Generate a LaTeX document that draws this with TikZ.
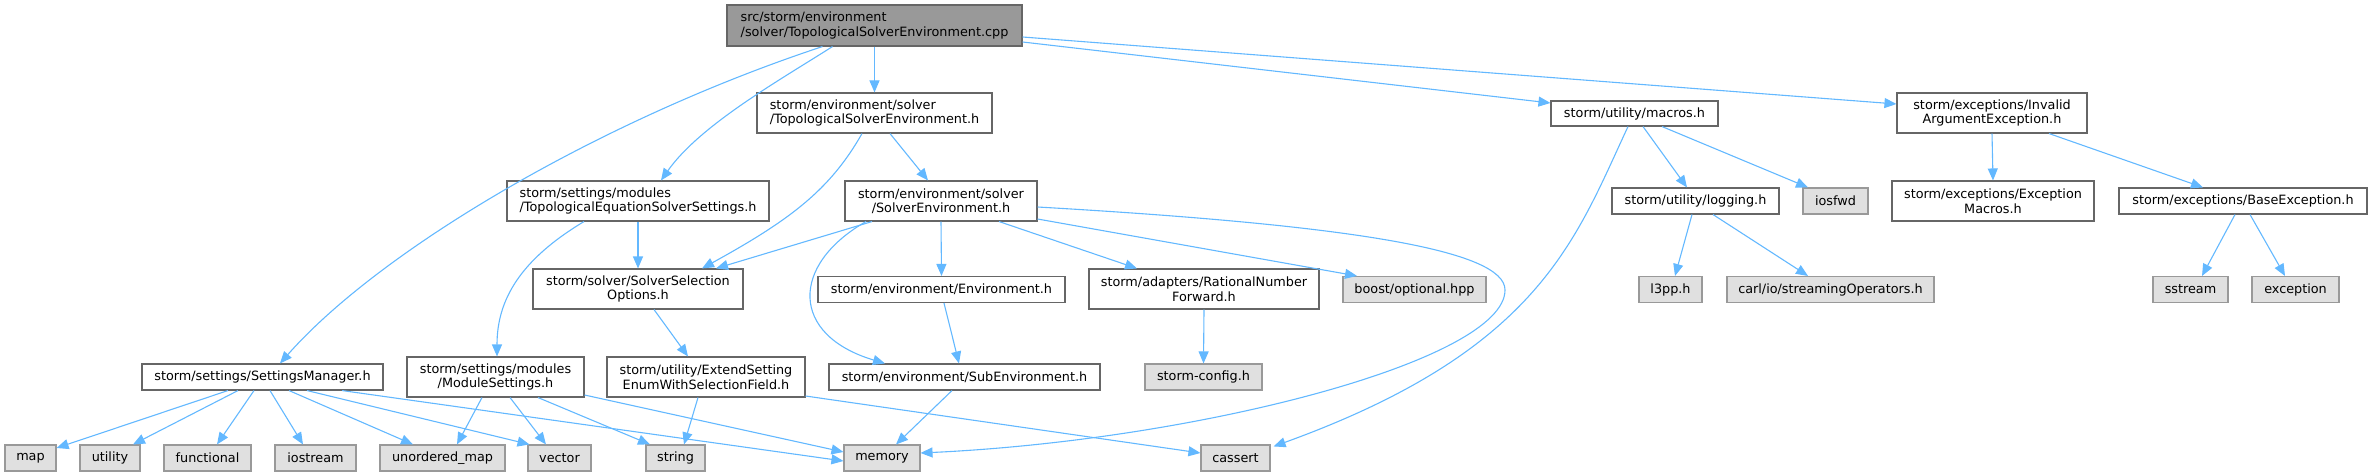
\documentclass[tikz,border=0pt]{standalone}
\usepackage{fontspec}
\newfontfamily\dv{DejaVu Sans}
\usetikzlibrary{arrows.meta}
\definecolor{edgeblue}{HTML}{63B8FF}
\definecolor{bordgray}{HTML}{666666}
\definecolor{extfill}{HTML}{E0E0E0}
\definecolor{extbord}{HTML}{999999}
\definecolor{rootfill}{HTML}{999999}
\begin{document}
\begin{tikzpicture}[x=1pt,y=-1pt,
  nd/.style={draw=bordgray, fill=white, line width=1.1pt, inner sep=0pt,
    font=\dv\fontsize{12.8}{14.5}\selectfont, text=black, minimum height=26pt},
  two/.style={minimum height=40pt},
  ext/.style={nd, draw=extbord, fill=extfill},
  rootnd/.style={nd, two, fill=rootfill, draw=bordgray},
  conn/.style={draw=edgeblue, line width=1.1pt, -{Triangle[length=12pt,width=10pt]}, fill=none}
]
\useasboundingbox (0,0) rectangle (2371,476);
% row 0
\node[rootnd, minimum width=295pt, minimum height=41pt, align=left] (root) at (874.5,25.5) {src/storm/environment\\/solver/TopologicalSolverEnvironment.cpp};
% row 1
\node[nd, two, minimum width=235pt, align=left] (tse) at (874.5,113) {storm/environment/solver\\/TopologicalSolverEnvironment.h};
\node[nd, minimum width=167pt, minimum height=25pt] (macros) at (1634.5,113.5) {storm/utility/macros.h};
\node[nd, two, minimum width=190pt, align=center] (inv) at (1992,113) {storm/exceptions/Invalid\\ArgumentException.h};
% row 2
\node[nd, two, minimum width=262pt, align=left] (tes) at (638,201) {storm/settings/modules\\/TopologicalEquationSolverSettings.h};
\node[nd, two, minimum width=192pt, align=center] (se) at (941,201) {storm/environment/solver\\/SolverEnvironment.h};
\node[nd, minimum width=167pt] (logging) at (1695.5,201) {storm/utility/logging.h};
\node[ext, minimum width=65pt] (iosfwd) at (1835.5,201) {iosfwd};
\node[nd, two, minimum width=202pt, align=center] (em) at (1993,201) {storm/exceptions/Exception\\Macros.h};
\node[nd, minimum width=248pt] (be) at (2243,201) {storm/exceptions/BaseException.h};
% row 3
\node[nd, two, minimum width=210pt, align=center] (ss) at (638,289) {storm/solver/SolverSelection\\Options.h};
\node[nd, minimum width=247pt] (env) at (941.5,289.5) {storm/environment/Environment.h};
\node[nd, two, minimum width=230pt, align=center] (rn) at (1204,289) {storm/adapters/RationalNumber\\Forward.h};
\node[ext, minimum width=143pt] (boost) at (1414.5,289.5) {boost/optional.hpp};
\node[ext, minimum width=63pt] (l3pp) at (1670.5,289.5) {l3pp.h};
\node[ext, minimum width=207pt] (carl) at (1830.5,289.5) {carl/io/streamingOperators.h};
\node[ext, minimum width=75pt] (sstream) at (2190.5,289.5) {sstream};
\node[ext, minimum width=87pt] (exception) at (2295.5,289.5) {exception};
% row 4
\node[nd, minimum width=241pt] (sm) at (262.5,377) {storm/settings/SettingsManager.h};
\node[nd, two, minimum width=177pt, align=center] (ms) at (495.5,377) {storm/settings/modules\\/ModuleSettings.h};
\node[nd, two, minimum width=198pt, align=center] (es) at (706,377) {storm/utility/ExtendSetting\\EnumWithSelectionField.h};
\node[nd, minimum width=271pt] (sub) at (964.5,377) {storm/environment/SubEnvironment.h};
\node[ext, minimum width=117pt] (cfg) at (1203.5,377) {storm-config.h};
% row 5
\node[ext, minimum width=51pt] (map) at (30.5,458) {map};
\node[ext, minimum width=60pt] (utility) at (110,458) {utility};
\node[ext, minimum width=87pt] (functional) at (207.5,458) {functional};
\node[ext, minimum width=81pt] (iostream) at (315.5,458) {iostream};
\node[ext, minimum width=125pt] (um) at (442.5,458) {unordered\_map};
\node[ext, minimum width=63pt] (vector) at (559.5,458) {vector};
\node[ext, minimum width=59pt] (string) at (675.5,458) {string};
\node[ext, minimum width=76pt] (memory) at (882,458) {memory};
\node[ext, minimum width=69pt] (cassert) at (1235.5,458) {cassert};
% edges
\draw[conn] (root.south) -- (tse.north);
\draw[conn] ([xshift=-42pt]root.south) .. controls (780,80) and (700,125) .. ([xshift=23pt]tes.north);
\draw[conn] ([xshift=-52pt]root.south) .. controls (600,120) and (380,250) .. ([xshift=17.5pt]sm.north);
\draw[conn] ([yshift=-16.5pt]root.east) -- ([yshift=10.5pt]macros.west);
\draw[conn] ([yshift=-11.5pt]root.east) -- ([yshift=9pt]inv.west);
\draw[conn] ([xshift=15.5pt]tse.south) -- ([xshift=-13pt]se.north);
\draw[conn] ([xshift=-12.5pt]tse.south) .. controls (830,190) and (790,220) .. ([xshift=64pt]ss.north);
\draw[conn] (tes.south) -- (ss.north);
\draw[conn] ([xshift=-54pt]tes.south) .. controls (520,260) and (497,300) .. ([xshift=1.5pt]ms.north);
\draw[conn] ([xshift=-69pt]se.south) -- ([xshift=78pt]ss.north);
\draw[conn] ([xshift=-75pt]se.south) .. controls (790,265) and (790,335) .. ([xshift=-79.5pt]sub.north);
\draw[conn] (se.south) -- (env.north);
\draw[conn] ([xshift=58pt]se.south) -- ([xshift=-67pt]rn.north);
\draw[conn] ([yshift=-18pt]se.east) -- ([xshift=-57.5pt]boost.north);
\draw[conn] ([yshift=-6pt]se.east) .. controls (1350,225) and (1505,250) .. (1505,290) .. controls (1505,360) and (1200,440) .. ([yshift=5pt]memory.east);
\draw[conn] ([xshift=16pt]ss.south) -- ([xshift=-18pt]es.north);
\draw[conn] ([xshift=2.5pt]env.south) -- ([xshift=-5.5pt]sub.north);
\draw[conn] (rn.south) -- (cfg.north);
\draw[conn] ([xshift=-12.5pt]sub.south) -- ([xshift=14pt]memory.north);
\draw[conn] ([xshift=-8pt]es.south) -- ([xshift=8.5pt]string.north);
\draw[conn] ([yshift=-19pt]es.east) -- ([yshift=5pt]cassert.west);
\draw[conn] ([xshift=-13.5pt]ms.south) -- ([xshift=14.5pt]um.north);
\draw[conn] ([xshift=14.5pt]ms.south) -- ([xshift=-13.5pt]vector.north);
\draw[conn] ([xshift=42.5pt]ms.south) -- ([xshift=-25.5pt]string.north);
\draw[conn] ([yshift=-18pt]ms.east) -- ([yshift=6pt]memory.west);
\draw[conn] ([xshift=-34.5pt]sm.south) -- ([yshift=10pt]map.east);
\draw[conn] ([xshift=-24.5pt]sm.south) -- ([xshift=23pt]utility.north);
\draw[conn] ([xshift=-8.5pt]sm.south) -- ([xshift=9.5pt]functional.north);
\draw[conn] ([xshift=7.5pt]sm.south) -- ([xshift=-12.5pt]iostream.north);
\draw[conn] ([xshift=26.5pt]sm.south) -- ([xshift=-29.5pt]um.north);
\draw[conn] ([xshift=44.5pt]sm.south) -- ([xshift=-30pt]vector.north);
\draw[conn] ([xshift=79.5pt]sm.south) -- ([yshift=-3pt]memory.west);
\draw[conn] ([xshift=8.5pt]macros.south) -- ([xshift=-8.5pt]logging.north);
\draw[conn] ([xshift=27.5pt]macros.south) -- ([xshift=-27.5pt]iosfwd.north);
\draw[conn] ([xshift=-6.5pt]macros.south) .. controls (1575,240) and (1540,350) .. ([xshift=3pt,yshift=-2pt]cassert.north east);
\draw[conn] ([xshift=-3.5pt]logging.south) -- ([xshift=4.5pt]l3pp.north);
\draw[conn] ([xshift=17.5pt]logging.south) -- ([xshift=-22.5pt]carl.north);
\draw[conn] (inv.south) -- (em.north);
\draw[conn] ([xshift=57pt]inv.south) -- ([xshift=-40pt]be.north);
\draw[conn] ([xshift=-8pt]be.south) -- ([xshift=11.5pt]sstream.north);
\draw[conn] ([xshift=7pt]be.south) -- ([xshift=-10.5pt]exception.north);
\end{tikzpicture}
\end{document}
